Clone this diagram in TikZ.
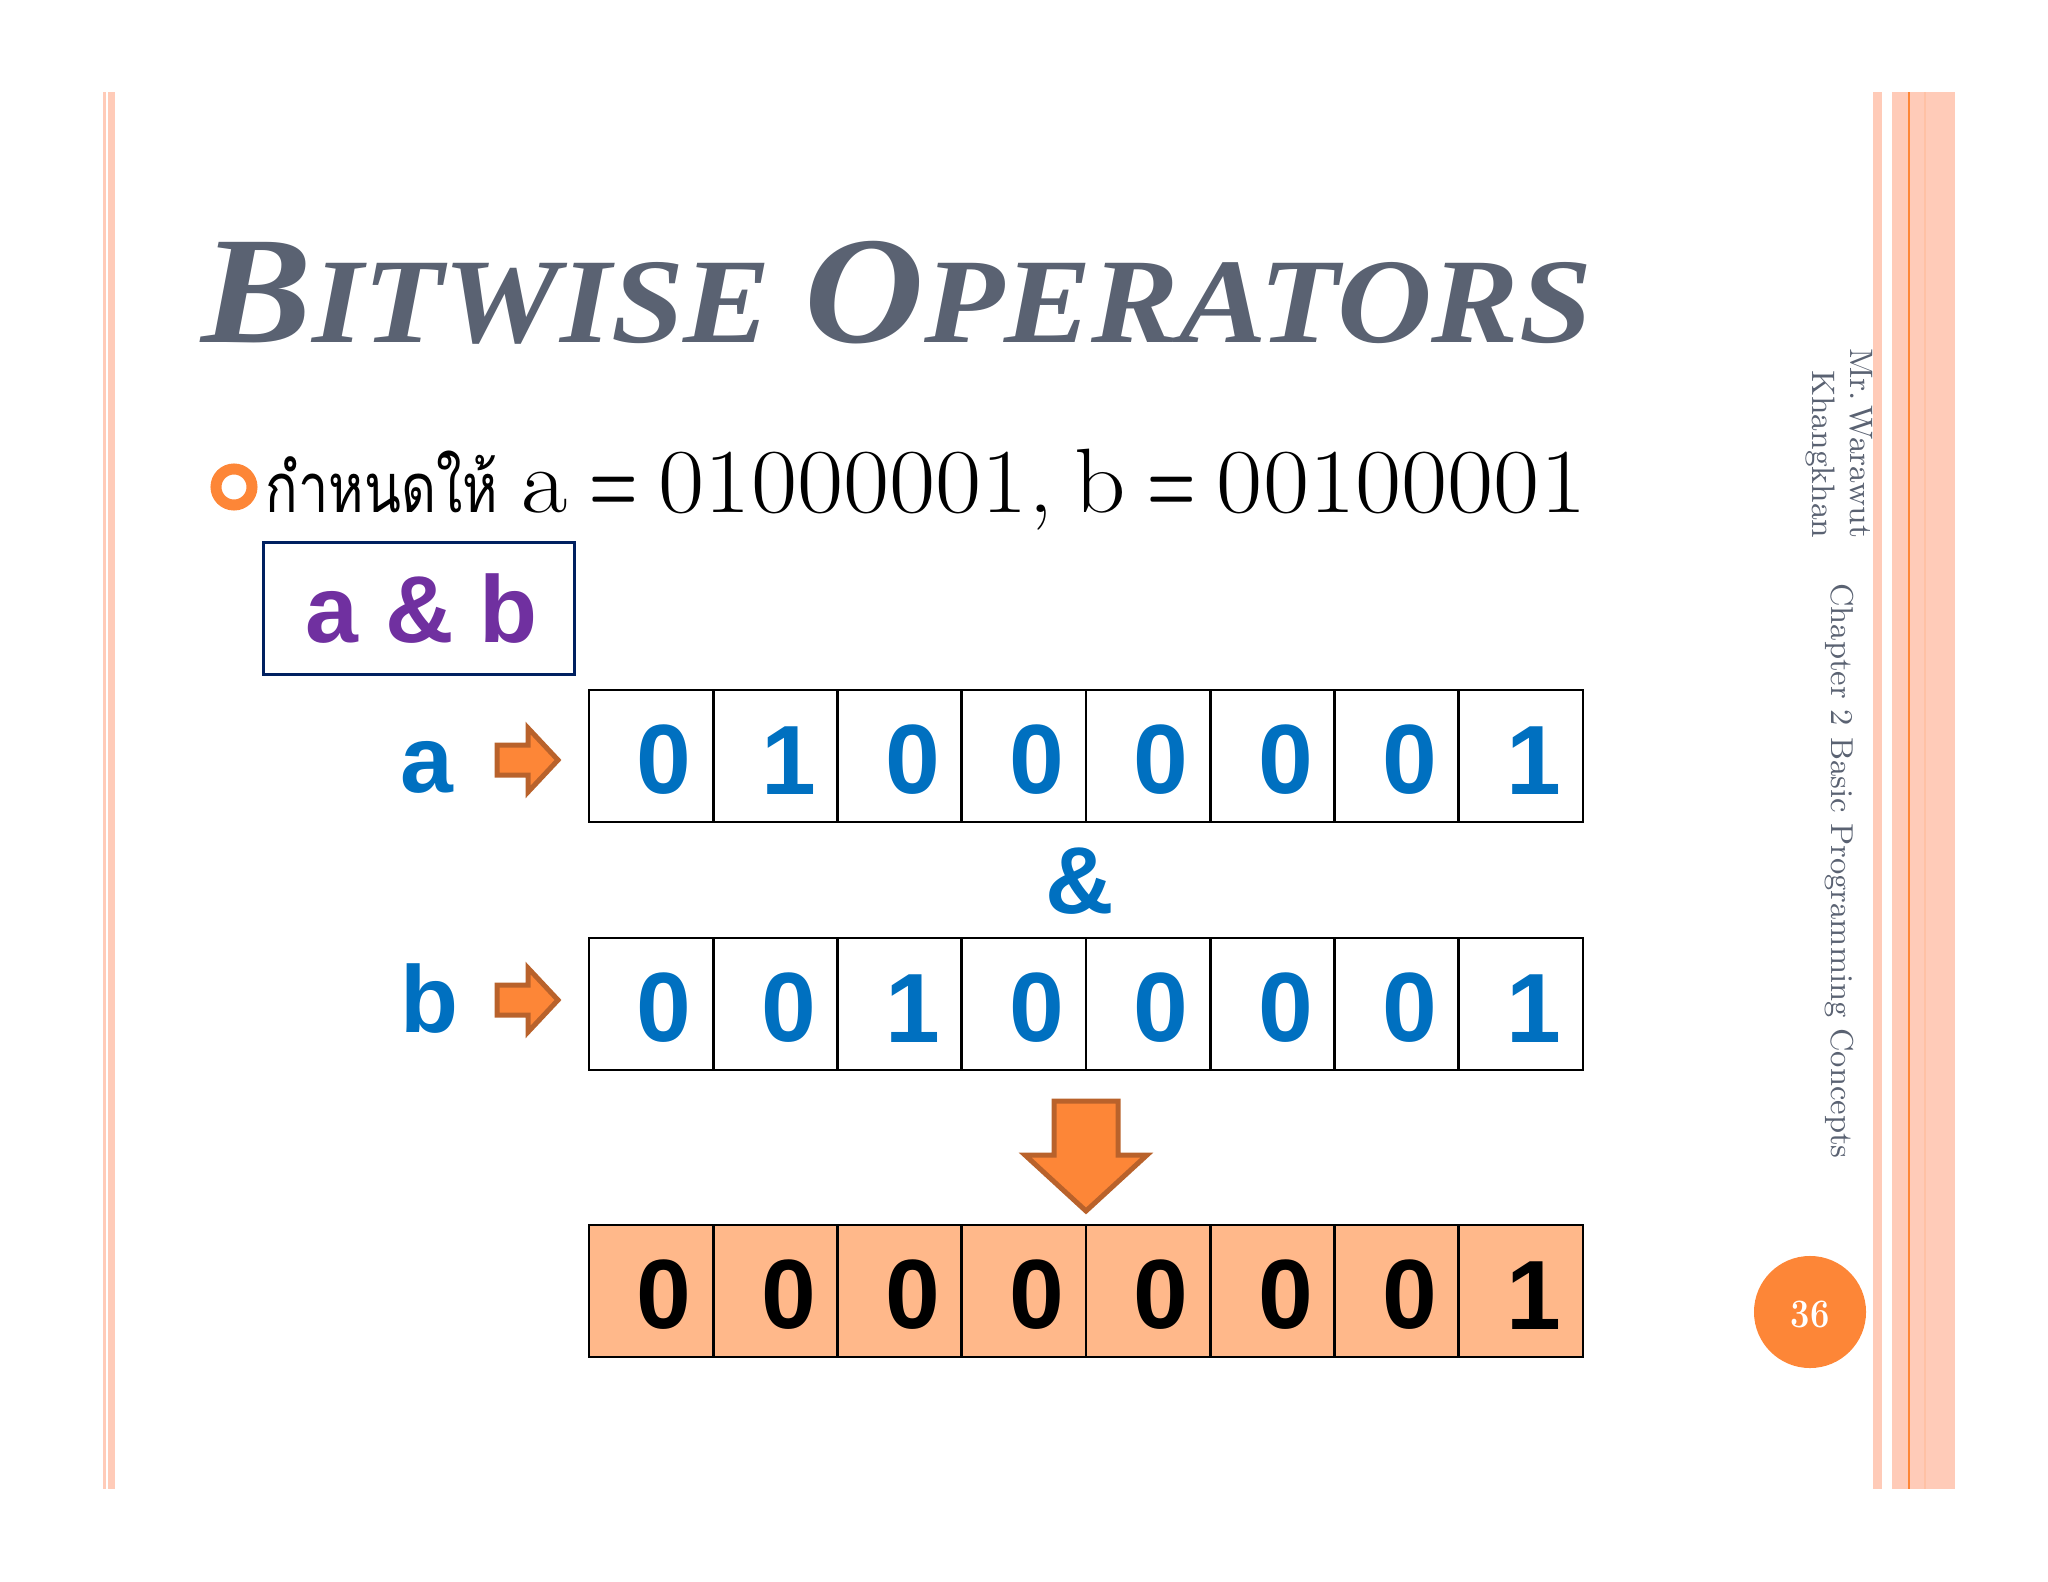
\documentclass[tikz,border=0pt]{standalone}
\usepackage{fontspec}
\setsansfont{Liberation Sans}
\newfontfamily\thaifont[Script=Thai]{Loma}
\newfontfamily\titlefont[BoldItalicFont=Liberation Serif Bold Italic]{Liberation Serif}
\definecolor{slidegrey}{HTML}{5A6272}
\definecolor{barpink}{HTML}{FFCBB8}
\definecolor{barorange}{HTML}{FD8637}
\definecolor{arrowedge}{HTML}{B9622B}
\definecolor{cellblue}{HTML}{0070C0}
\definecolor{cellfill}{HTML}{FFB88A}
\definecolor{boxpurple}{HTML}{7030A0}
\definecolor{boxnavy}{HTML}{002060}
\tikzset{
	cell/.style={draw=black,line width=0.027cm,minimum width=1.2425cm,minimum height=1.32cm,inner sep=0pt,text height=21.7pt,font=\sffamily\bfseries\fontsize{28}{28}\selectfont,execute at begin node={\hspace*{0.26cm}}},
	bluecell/.style={cell,text=cellblue,fill=white},
	resultcell/.style={cell,text=black,fill=cellfill},
	bluetext/.style={text=cellblue,inner sep=0pt,font=\sffamily\bfseries\fontsize{27}{27}\selectfont},
	blockarrow/.style={draw=arrowedge,fill=barorange,line width=0.05cm,miter limit=10},
	sidetext/.style={text=slidegrey,rotate=-90,inner sep=0pt,font=\fontsize{9.25}{10.8}\selectfont}
}
\begin{document}
\begin{tikzpicture}[x=0.01cm,y=-0.01cm]
	\useasboundingbox (0,0) rectangle (2048,1582);

	% Side bars
	\fill[barpink] (103,92) rectangle (106,1489);
	\fill[barpink] (108,92) rectangle (115,1489);
	\fill[barpink] (1873,92) rectangle (1882,1489);
	\fill[barpink] (1892,92) rectangle (1955,1489);
	\fill[barorange] (1907.5,92) rectangle (1910,1489);
	\fill[barorange!15!barpink] (1924,92) rectangle (1926,1489);

	% Title
	\node[anchor=base west,inner sep=0pt,text=slidegrey] (title) at (201,342) {\scalebox{1.084}[1]{\titlefont\bfseries\itshape\fontsize{34.4}{40}\selectfont{\fontsize{43.5}{40}\selectfont B}ITWISE {\fontsize{43.5}{40}\selectfont O}PERATORS}};

	% Bullet line
	\node[circle,draw=barorange,line width=0.11cm,minimum size=0.36cm,inner sep=0pt] (bullet) at (234,487) {};
	\node[anchor=base west,inner sep=0pt] (given) at (265,512) {\scalebox{0.59}[0.75]{\thaifont\fontsize{26}{30}\selectfont กำหนดให้}};
	\node[anchor=base west,inner sep=0pt] (values) at (521,512) {\scalebox{1.1}[1]{\fontsize{26}{30}\selectfont\spaceskip=5.5pt a \scalebox{0.55}[1]{\bfseries =} 01000001, b \scalebox{0.55}[1]{\bfseries =} 00100001}};

	% Expression box
	\node[draw=boxnavy,line width=0.03cm,minimum width=3.1cm,minimum height=1.32cm,text=boxpurple,font=\sffamily\bfseries\fontsize{27}{27}\selectfont] (expr) at (419,608.5) {\hspace*{0.06cm}a \& b};

	% Row a
	\node[bluetext,anchor=base] (labela) at (426.5,792) {a};
	\draw[blockarrow] (497,745) -- (528,745) -- (528,728) -- (558,760) -- (528,792) -- (528,775) -- (497,775) -- cycle;
	\node[bluecell] (a0) at (651.1,756) {0};
	\node[bluecell] (a1) at (775.4,756) {1};
	\node[bluecell] (a2) at (899.6,756) {0};
	\node[bluecell] (a3) at (1023.9,756) {0};
	\node[bluecell] (a4) at (1148.1,756) {0};
	\node[bluecell] (a5) at (1272.4,756) {0};
	\node[bluecell] (a6) at (1396.6,756) {0};
	\node[bluecell] (a7) at (1520.9,756) {1};

	% Operator
	\node[bluetext] (amp) at (1080,881) {\&};

	% Row b
	\node[bluetext,anchor=base] (labelb) at (429,1032) {b};
	\draw[blockarrow] (497,985) -- (528,985) -- (528,968) -- (558,1000) -- (528,1032) -- (528,1015) -- (497,1015) -- cycle;
	\node[bluecell] (b0) at (651.1,1004) {0};
	\node[bluecell] (b1) at (775.4,1004) {0};
	\node[bluecell] (b2) at (899.6,1004) {1};
	\node[bluecell] (b3) at (1023.9,1004) {0};
	\node[bluecell] (b4) at (1148.1,1004) {0};
	\node[bluecell] (b5) at (1272.4,1004) {0};
	\node[bluecell] (b6) at (1396.6,1004) {0};
	\node[bluecell] (b7) at (1520.9,1004) {1};

	% Down arrow
	\draw[blockarrow] (1054,1101) -- (1118,1101) -- (1118,1155) -- (1147,1155) -- (1086,1211) -- (1025,1155) -- (1054,1155) -- cycle;

	% Result row
	\node[resultcell] (r0) at (651.1,1291) {0};
	\node[resultcell] (r1) at (775.4,1291) {0};
	\node[resultcell] (r2) at (899.6,1291) {0};
	\node[resultcell] (r3) at (1023.9,1291) {0};
	\node[resultcell] (r4) at (1148.1,1291) {0};
	\node[resultcell] (r5) at (1272.4,1291) {0};
	\node[resultcell] (r6) at (1396.6,1291) {0};
	\node[resultcell] (r7) at (1520.9,1291) {1};

	% Side labels
	\node[sidetext,align=right,anchor=north east] (author) at (1873,539) {{\spaceskip=0.2pt Mr. Warawut}\\Khangkhan};
	\node[sidetext,font=\fontsize{9}{10.8}\selectfont] (chapter) at (1839,871) {Chapter 2 Basic Programming Concepts};

	% Page number
	\node[circle,fill=barorange,minimum size=1.12cm,inner sep=0pt,text=white,text height=9.2pt,font=\bfseries\fontsize{11.5}{12}\selectfont] (page) at (1810,1312) {\scalebox{0.85}[1]{36}};
\end{tikzpicture}
\end{document}
